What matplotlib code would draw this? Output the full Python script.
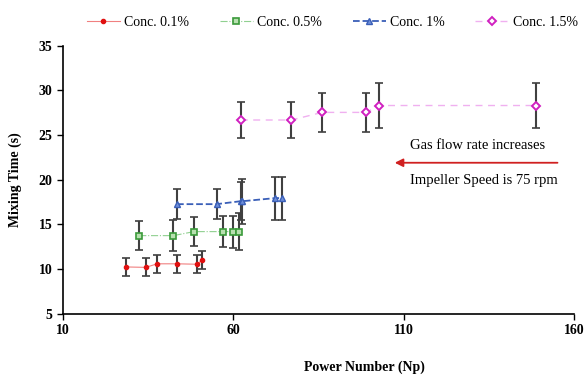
import matplotlib.pyplot as plt

plt.rcParams['font.family'] = ['Liberation Serif', 'DejaVu Serif']

# data
x01 = [28.4, 34.3, 37.7, 43.5, 49.4, 50.8]
y01 = [10.25, 10.2, 10.6, 10.6, 10.55, 11.0]
e01 = [1.0, 1.0, 1.0, 1.0, 1.0, 1.0]

x05 = [32.4, 42.4, 48.5, 57.1, 60.0, 61.8]
y05 = [13.75, 13.75, 14.2, 14.2, 14.2, 14.2]
e05 = [1.6, 1.7, 1.6, 1.7, 1.8, 2.1]

x1 = [43.5, 55.1, 62.2, 62.7, 72.4, 74.4]
y1 = [17.27, 17.27, 17.6, 17.6, 17.95, 17.95]
e1 = [1.7, 1.7, 2.1, 2.5, 2.4, 2.4]

x15 = [62.2, 77.1, 86.1, 99.1, 102.8, 148.8]
y15 = [26.68, 26.68, 27.53, 27.53, 28.3, 28.3]
e15 = [2.0, 2.0, 2.2, 2.2, 2.5, 2.5]

fig = plt.figure(figsize=(5.88, 3.8), dpi=100)
ax = fig.add_axes([0.107, 0.174, 0.869, 0.706])

ebc = '#404040'
series = [
    (x01, y01, e01, 'Conc. 0.1%', dict(color='#f08080', ls='-', lw=0.8, marker='o', ms=3,
                                        mfc='#e01010', mec='#e01010')),
    (x05, y05, e05, 'Conc. 0.5%', dict(color='#90d090', ls='-.', lw=0.8, marker='s', ms=5,
                                        mfc='#b8e0b0', mec='#3a9a3a', mew=1.2)),
    (x1, y1, e1, 'Conc. 1%', dict(color='#3a5fb8', ls='--', lw=1.3, marker='^', ms=5,
                                   mfc='#6f8fd8', mec='#3a5fb8', mew=1.0)),
    (x15, y15, e15, 'Conc. 1.5%', dict(color='#f0b0f0', ls=(0, (5, 4)), lw=1.0, marker='D', ms=4,
                                        mfc='white', mec='#d020c0', mew=1.4)),
]

for x, y, e, lab, st in series:
    ax.errorbar(x, y, yerr=e, fmt='none', ecolor=ebc, elinewidth=1.5, capsize=3, capthick=1.2, zorder=2)
    ax.plot(x, y, label=lab, zorder=3, **st)

ax.set_xlim(10, 160)
ax.set_ylim(5, 35)
ax.set_xticks([10, 60, 110, 160])
ax.set_yticks([5, 10, 15, 20, 25, 30, 35])
ax.spines['top'].set_visible(False)
ax.spines['right'].set_visible(False)
ax.spines['left'].set_linewidth(1.2)
ax.spines['bottom'].set_linewidth(1.2)
ax.tick_params(direction='out', length=4, width=1.0, labelsize=10)
for t in ax.get_xticklabels() + ax.get_yticklabels():
    t.set_fontweight('bold')

ax.set_xlabel('Power Number (Np)', fontsize=10, fontweight='bold')
ax.xaxis.set_label_coords(0.59, -0.175)
ax.set_ylabel('Mixing Time (s)', fontsize=10, fontweight='bold', labelpad=12)

ax.annotate('', xy=(106.6, 21.9), xytext=(156, 21.9),
            arrowprops=dict(arrowstyle='-|>', color='#d02020', lw=1.3, mutation_scale=12))
ax.text(111.8, 23.8, 'Gas flow rate increases', fontsize=10.5, ha='left', va='center')
ax.text(111.8, 19.9, 'Impeller Speed is 75 rpm', fontsize=10.5, ha='left', va='center')

fig.legend(loc='center', bbox_to_anchor=(0.565, 0.942), ncol=4, frameon=False, fontsize=10,
           handlelength=2.4, columnspacing=2.2, handletextpad=0.3)

fig.savefig('out.png', dpi=100)
